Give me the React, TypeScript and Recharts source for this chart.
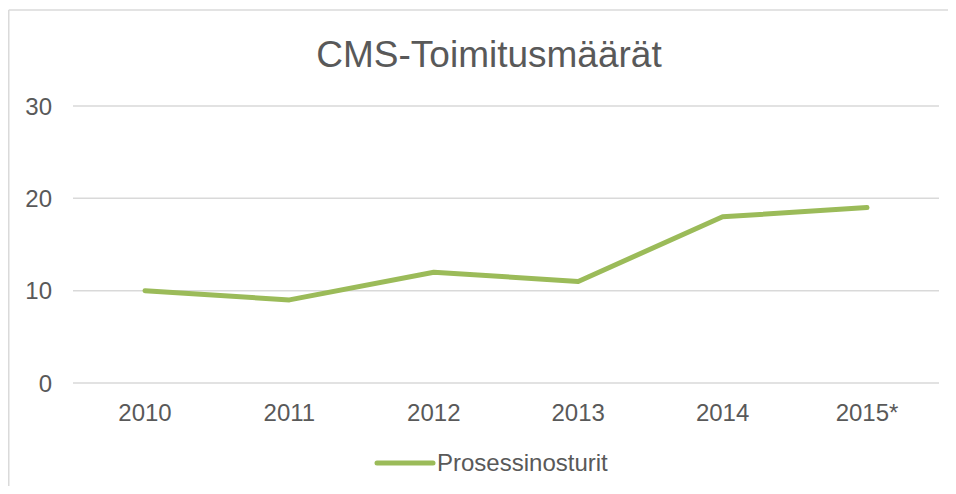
import React from 'react';
import { LineChart, Line, XAxis, YAxis, CartesianGrid, Legend } from 'recharts';

const years = ['2010', '2011', '2012', '2013', '2014', '2015*'];
const prosessinosturit = [10, 9, 12, 11, 18, 19];
const yTicks = [0, 10, 20, 30];
const seriesName = 'Prosessinosturit';
const chartTitle = 'CMS-Toimitusmäärät';

const data = years.map((year, i) => ({ year, value: prosessinosturit[i] }));

const FONT = '"Liberation Sans", Arial, sans-serif';
const TEXT = '#595959';
const GRID = '#d9d9d9';
const LINE = '#9bbb59';

const LegendContent = (props: any) => {
  const item = (props.payload && props.payload[0]) || { value: seriesName, color: LINE };
  return (
    <svg width={300} height={34} style={{ display: 'block' }}>
      <line x1={4} y1={15} x2={60} y2={15} stroke={item.color || LINE} strokeWidth={5} strokeLinecap="round" />
      <text x={64} y={23} fontFamily={FONT} fontSize={24} fill={TEXT}>
        {item.value}
      </text>
    </svg>
  );
};

export default function App() {
  return (
    <div style={{ position: 'relative', width: 940, height: 478, overflow: 'hidden', background: '#fff' }}>
      <svg width={940} height={478} style={{ position: 'absolute', left: 0, top: 0, pointerEvents: 'none' }}>
        <line x1={0.75} y1={2} x2={940} y2={2} stroke="#dadada" strokeWidth={1.5} />
        <line x1={0.75} y1={2} x2={0.75} y2={478} stroke="#dadada" strokeWidth={1.5} />
        <text x={481} y={59} textAnchor="middle" fontFamily={FONT} fontSize={37} fill={TEXT}>
          {chartTitle}
        </text>
      </svg>
      <LineChart
        width={940}
        height={478}
        data={data}
        margin={{ top: 98, right: 9, left: 0, bottom: 73 }}
        style={{ position: 'absolute', left: 0, top: 0 }}
      >
        <CartesianGrid vertical={false} stroke={GRID} strokeWidth={1.5} />
        <XAxis
          dataKey="year"
          axisLine={false}
          tickLine={false}
          tickSize={0}
          tickMargin={21}
          height={30}
          padding={{ left: 72, right: 72 }}
          tick={{ fontFamily: FONT, fontSize: 24, fill: TEXT }}
        />
        <YAxis
          domain={[0, 30]}
          ticks={yTicks}
          axisLine={false}
          tickLine={false}
          tickSize={0}
          tickMargin={21}
          width={65}
          tick={{ fontFamily: FONT, fontSize: 24, fill: TEXT }}
        />
        <Legend
          verticalAlign="middle"
          align="center"
          layout="horizontal"
          wrapperStyle={{ left: 365, top: 440, width: 300 }}
          content={<LegendContent />}
        />
        <Line
          type="linear"
          dataKey="value"
          name={seriesName}
          stroke={LINE}
          strokeWidth={5}
          strokeLinecap="round"
          strokeLinejoin="round"
          dot={false}
          activeDot={false}
          isAnimationActive={false}
        />
      </LineChart>
    </div>
  );
}
